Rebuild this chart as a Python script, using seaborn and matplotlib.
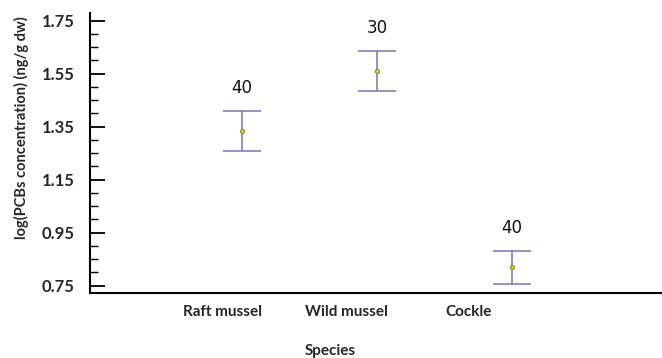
import matplotlib
matplotlib.use("Agg")
import matplotlib.pyplot as plt
from matplotlib.ticker import MultipleLocator, FixedLocator
import numpy as np
import pandas as pd
import seaborn as sns

# Group means of log10 PCB concentration, half-width of the interval, and sample sizes
species = ["Raft mussel", "Wild mussel", "Cockle"]
means = [1.333, 1.560, 0.820]
half_widths = [0.075, 0.077, 0.062]
sample_sizes = [40, 30, 40]
y_ticks = [0.75, 0.95, 1.15, 1.35, 1.55, 1.75]

sns.set_theme(style="ticks")
plt.rcParams["font.family"] = ["Lato", "DejaVu Sans"]

df = pd.DataFrame({"pos": np.arange(len(species)), "mean": means,
                   "hw": half_widths, "n": sample_sizes, "species": species})

fig = plt.figure(figsize=(6.62, 3.58), dpi=100)
ax = fig.add_axes([90 / 662, 65 / 358, 572 / 662, 280 / 358])

bar_color = "#7474bd"
ax.errorbar(df["pos"], df["mean"], yerr=df["hw"], fmt="none",
            ecolor=bar_color, elinewidth=1.1, capsize=13.5, capthick=1.1, zorder=2)
sns.scatterplot(data=df, x="pos", y="mean", ax=ax, marker="o", s=9,
                color="#d8d820", edgecolor="#8c8c3c", linewidth=0.8, zorder=3, legend=False)

for p, m, h, n in zip(df["pos"], df["mean"], df["hw"], df["n"]):
    ax.annotate(str(n), xy=(p, m + h), xytext=(0, 16.5), textcoords="offset points",
                ha="center", va="center", fontsize=12, family="DejaVu Sans",
                color="#111111")

ax.set_xlim(-152 / 135, 420 / 135)
ax.set_ylim(0.7225, 1.779)

ax.yaxis.set_major_locator(FixedLocator(y_ticks))
ax.yaxis.set_minor_locator(MultipleLocator(0.05))
ax.set_yticklabels([f"{v:.2f}" for v in y_ticks], fontweight="bold", fontsize=12)
ax.tick_params(axis="y", which="major", direction="in", length=11, width=1.3, color="black", pad=11)
ax.tick_params(axis="y", which="minor", direction="in", length=6, width=1.0, color="black")

label_pos = [-0.148, 0.770, 1.681]
ax.set_xticks(label_pos)
ax.set_xticklabels(species, fontweight="bold", fontsize=11)
ax.tick_params(axis="x", length=0, pad=9)

ax.set_xlabel("Species", fontweight="bold", fontsize=11, va="center")
ax.xaxis.set_label_coords((330 - 90) / 572, -(351 - 293) / 280)
ax.set_ylabel("log(PCBs concentration) (ng/g dw)", fontweight="bold", fontsize=10.5, va="center")
ax.yaxis.set_label_coords(-(90 - 21) / 572, (293 - 128) / 280)

for side in ["top", "right"]:
    ax.spines[side].set_visible(False)
for side in ["left", "bottom"]:
    ax.spines[side].set_color("black")
    ax.spines[side].set_linewidth(1.5)

fig.savefig("out.png", dpi=100)
